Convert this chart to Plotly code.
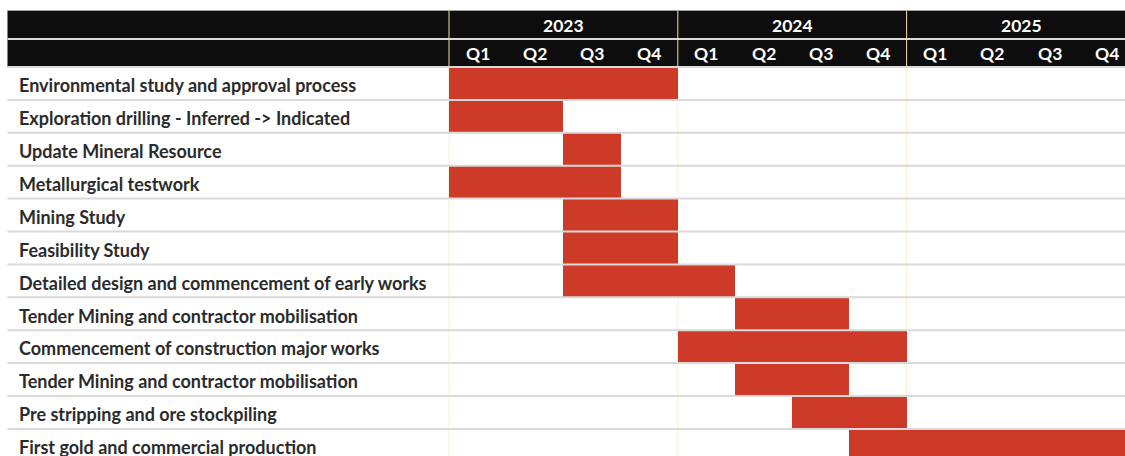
import plotly.graph_objects as go

# ---- schedule data (quarters counted from 2023 Q1 = 0) ----
tasks = [
    "Environmental study and approval process",
    "Exploration drilling - Inferred -> Indicated",
    "Update Mineral Resource",
    "Metallurgical testwork",
    "Mining Study",
    "Feasibility Study",
    "Detailed design and commencement of early works",
    "Tender Mining and contractor mobilisation",
    "Commencement of construction major works",
    "Tender Mining and contractor mobilisation",
    "Pre stripping and ore stockpiling",
    "First gold and commercial production",
]
start_q = [0, 0, 2, 0, 2, 2, 2, 5, 4, 5, 6, 7]
end_q = [4, 2, 3, 3, 4, 4, 5, 7, 8, 7, 8, 12]

years = ["2023", "2024", "2025"]
quarters = ["Q1", "Q2", "Q3", "Q4"]

# ---- layout geometry ----
W, H = 1125, 456
QW = 57.2          # pixels per quarter
X0 = 449.0         # pixel where the timeline starts
ROW = 32.9         # row pitch in pixels
BODY_TOP = 67.0    # pixel where the task rows start

BAR_COLOR = "#CE3A28"
HEAD_BG = "#0D0D0D"
GRID = "#D9D9D9"
FAINT = "#FFF0C8"
TEXT = "#2B2B2B"
FONT = "Lato"


def px_x(p):
    return (p - X0) / QW


def px_y(p):
    return (p - BODY_TOP) / ROW - 0.5


n_q = len(years) * len(quarters)
left = px_x(7.5)
right = n_q + 0.5
rows = list(range(len(tasks)))

fig = go.Figure()
fig.add_trace(go.Bar(
    y=rows,
    x=[e - s for s, e in zip(start_q, end_q)],
    base=start_q,
    orientation="h",
    width=1.0,
    marker=dict(color=BAR_COLOR, line=dict(width=0)),
    hoverinfo="skip",
))

shapes = []
# faint year boundary lines through the body
for k in range(len(years) + 1):
    shapes.append(dict(type="line", xref="x", yref="y", x0=4 * k, x1=4 * k,
                       y0=-0.5, y1=len(tasks) + 1, layer="below",
                       line=dict(color=FAINT, width=1)))
# header band
shapes.append(dict(type="rect", xref="x", yref="y", x0=left, x1=right,
                   y0=px_y(10.5), y1=px_y(67), fillcolor=HEAD_BG,
                   line=dict(width=0), layer="above"))
shapes.append(dict(type="line", xref="x", yref="y", x0=left, x1=right,
                   y0=px_y(10.5), y1=px_y(10.5), layer="above",
                   line=dict(color="#A0A0A0", width=1)))
shapes.append(dict(type="line", xref="x", yref="y", x0=left, x1=right,
                   y0=px_y(39), y1=px_y(39), layer="above",
                   line=dict(color=GRID, width=2)))
for k in range(len(years) + 1):
    shapes.append(dict(type="line", xref="x", yref="y", x0=4 * k, x1=4 * k,
                       y0=px_y(10.5), y1=px_y(66), layer="above",
                       line=dict(color="#F5DFA0", width=1)))
# row separators
for i in range(len(tasks)):
    y = i - 0.5
    shapes.append(dict(type="line", xref="x", yref="y", x0=left, x1=right,
                       y0=y, y1=y, layer="above",
                       line=dict(color=GRID, width=2)))

annotations = []
label_dy = 1.8 / ROW   # nudge task labels slightly below row centre
for i, name in enumerate(tasks):
    annotations.append(dict(x=px_x(17), y=i + label_dy, xref="x", yref="y",
                            text=name, showarrow=False, xanchor="left",
                            yanchor="middle",
                            font=dict(family=FONT, size=18, color=TEXT,
                                      weight="bold")))
for k, yr in enumerate(years):
    annotations.append(dict(x=4 * k + 2, y=px_y(25), xref="x", yref="y",
                            text=yr, showarrow=False, xanchor="center",
                            yanchor="middle",
                            font=dict(family=FONT, size=17.5, color="white",
                                      weight="bold")))
    for j, q in enumerate(quarters):
        annotations.append(dict(x=4 * k + j + 0.5, y=px_y(53), xref="x",
                                yref="y", text=q, showarrow=False,
                                xanchor="center", yanchor="middle",
                                font=dict(family=FONT, size=17.5,
                                          color="white", weight="bold")))

fig.update_layout(
    width=W, height=H,
    margin=dict(l=0, r=0, t=0, b=0),
    paper_bgcolor="white", plot_bgcolor="white",
    showlegend=False,
    xaxis=dict(range=[px_x(0), px_x(W)], visible=False, fixedrange=True),
    yaxis=dict(range=[px_y(H), px_y(0)], visible=False, fixedrange=True),
    shapes=shapes,
    annotations=annotations,
    bargap=0,
)

fig.write_html("out.html")
